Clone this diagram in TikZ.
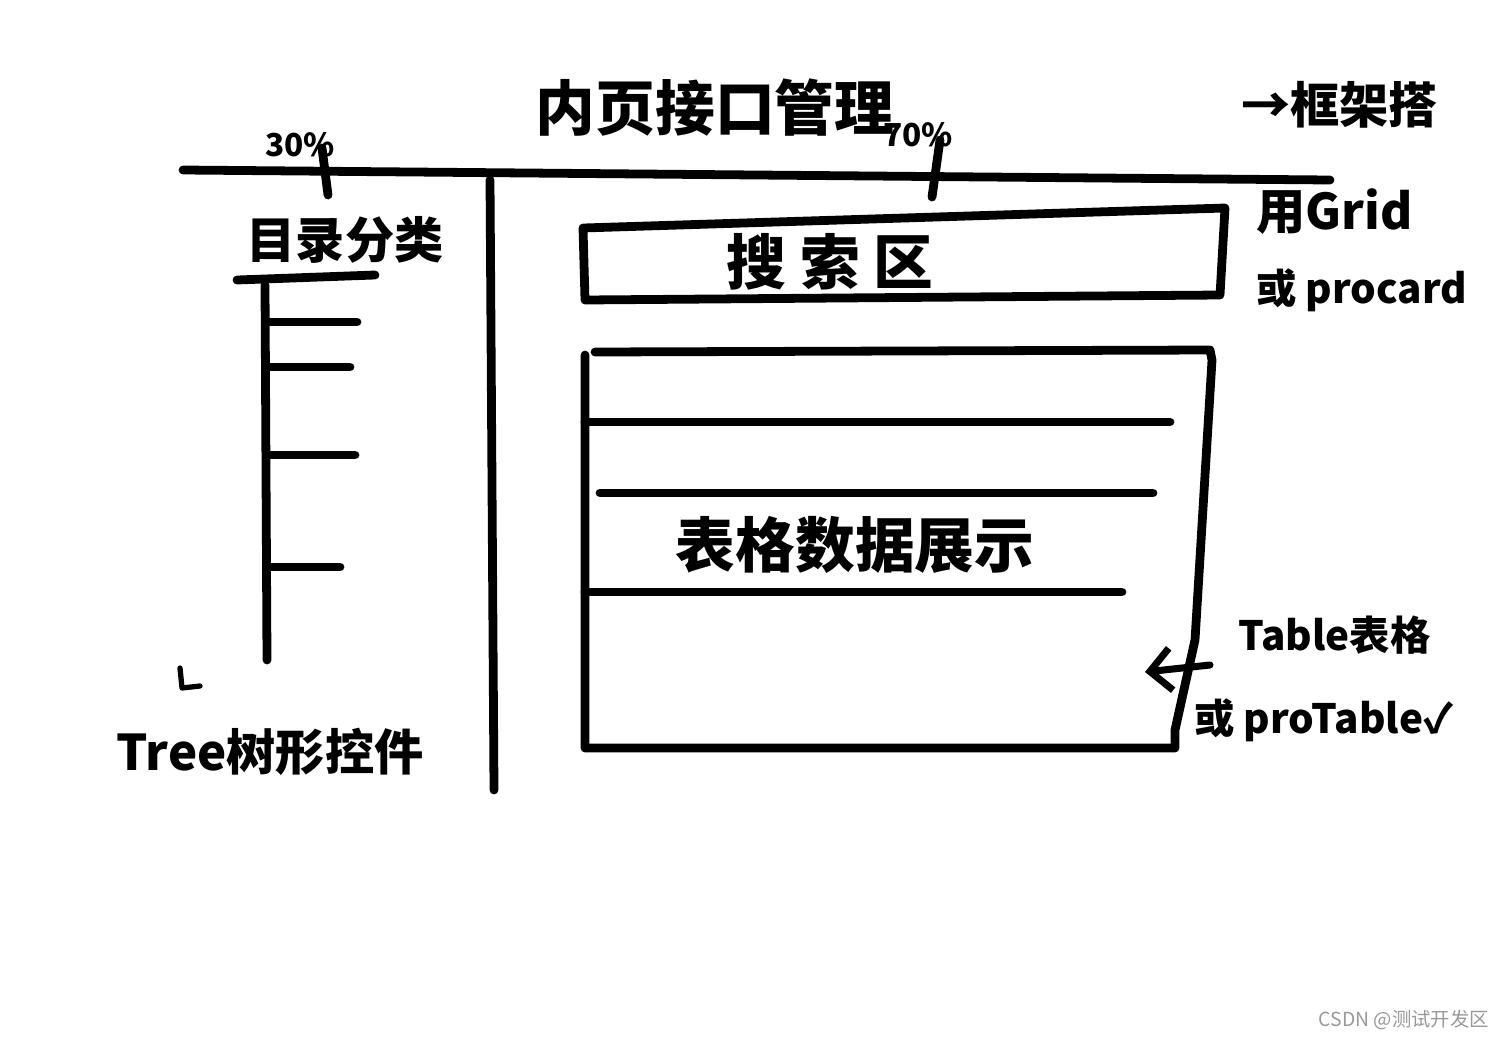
\documentclass[tikz,border=0pt]{standalone}
\usepackage{fontspec}
\usetikzlibrary{arrows.meta}
\setmainfont{Noto Sans CJK SC}
\tikzset{ink/.style={line width=5pt,line cap=round,line join=round,black},
 big/.style={font=\fontsize{34}{36}\selectfont\bfseries},
 mid/.style={font=\fontsize{28}{30}\selectfont\bfseries},
 side/.style={font=\fontsize{23}{25}\selectfont\bfseries},
 small/.style={font=\fontsize{18}{20}\selectfont\bfseries}}
\begin{document}
\begin{tikzpicture}[x=0.02cm,y=-0.02cm]
\useasboundingbox[fill=white] (0,0) rectangle (1500,1038);
% top frame
\coordinate (tl) at (183,170); \coordinate (tr) at (1330,180);
\draw[ink] (tl) -- (tr);
\coordinate (t1a) at (322,148); \coordinate (t1b) at (328,195);
\draw[ink] (t1a) -- (t1b);
\coordinate (t2a) at (940,140); \coordinate (t2b) at (932,197);
\draw[ink] (t2a) -- (t2b);
\coordinate (va) at (490,180); \coordinate (vb) at (494,790);
\draw[ink] (va) -- (vb);
\node[big] (title) at (715,108) {内页接口管理};
\node[small] (p30) at (300,145) {30\%};
\node[small] (p70) at (918,135) {70\%};
\node[mid,anchor=west] (frame) at (1235,105) {→框架搭};
% left tree
\node[mid] (cat) at (345,240) {目录分类};
\coordinate (ua) at (237,280); \coordinate (ub) at (375,275);
\draw[ink] (ua) -- (ub);
\coordinate (ta) at (265,285); \coordinate (tb) at (267,660);
\draw[ink] (ta) -- (tb);
\foreach \y/\e in {322/357,367/350,455/355,567/340}{
  \coordinate (b\y) at (267,\y); \coordinate (c\y) at (\e,\y);
  \draw[ink] (b\y) -- (c\y);}
\coordinate (ha) at (180,668); \coordinate (hb) at (182,688); \coordinate (hc) at (200,686);
\draw[ink,line width=3pt] (ha) -- (hb) -- (hc);
\node[mid] (tree) at (270,752) {Tree树形控件};
% search box
\coordinate (s1) at (583,228); \coordinate (s2) at (1225,208);
\coordinate (s3) at (1220,295); \coordinate (s4) at (585,300);
\draw[ink] (s1) -- (s2) -- (s3) -- (s4) -- cycle;
\node[big] (search) at (830,262) {搜\ 索\ 区};
\node[mid,anchor=west] (grid) at (1250,212) {用Grid};
\node[side,anchor=west] (procard) at (1250,290) {或 procard};
% table
\coordinate (r1) at (595,352); \coordinate (r2) at (1210,350);
\coordinate (r3) at (1175,730); \coordinate (r4) at (585,748);
\draw[ink] (r1) -- (r2) -- (1212,360) -- (1195,640) -- (r3) -- (1175,748) -- (r4) -- (585,355);
\foreach \y/\a/\b in {422/585/1170,493/600/1153,592/585/1122}{
  \coordinate (la\y) at (\a,\y); \coordinate (lb\y) at (\b,\y);
  \draw[ink] (la\y) -- (lb\y);}
\node[big] (data) at (855,545) {表格数据展示};
\coordinate (aa) at (1210,665); \coordinate (ab) at (1145,672);
\draw[ink,line width=4pt,-{Straight Barb[length=12pt]}] (aa) -- (ab);
\node[side,anchor=west] (tbl) at (1232,635) {Table表格};
\node[side,anchor=west] (pt) at (1188,720) {或 proTable✓};
\node[font=\fontsize{11}{12}\selectfont,text=black!40,anchor=east] (wm) at (1495,1020) {CSDN @测试开发区};
\end{tikzpicture}
\end{document}
